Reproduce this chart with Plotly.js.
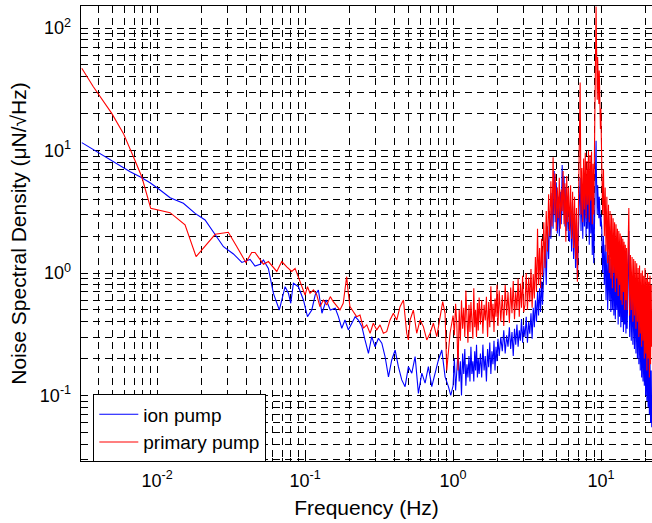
<!DOCTYPE html>
<html>
<head>
<meta charset="utf-8">
<script src="https://cdn.plot.ly/plotly-3.0.1.min.js"></script>
<style>html,body{margin:0;padding:0;background:#fff;}#chart{width:652px;height:523px;}</style>
</head>
<body>
<div id="chart"></div>
<script>
// ---- data ----
const seriesNames = ["ion pump", "primary pump"];

const freqBlueLow = [0.0031,0.00392,0.00507,0.00658,0.00767,0.00897,0.01048,0.01225,0.01506,0.01807,0.0211,0.0240,0.0281,0.0328,0.0374,0.0425,0.0459,0.0497,0.0523,0.0565,0.0611,0.0670,0.0733,0.0772,0.0800,0.0834,0.0901,0.0975,0.1038,0.111,0.117,0.123,0.130,0.139,0.148,0.160,0.168,0.177,0.186,0.196,0.207,0.218,0.229,0.242,0.254,0.268,0.282,0.297,0.313,0.330,0.347,0.366,0.385,0.406,0.427,0.450,0.474,0.499,0.526,0.554,0.583,0.615,0.647,0.681,0.718,0.756,0.796,0.839,0.883,0.930,0.965];
const psdBlueLow = [11.6,9.78,8.11,6.71,6.11,5.46,4.76,4.12,3.71,3.07,2.71,2.17,1.64,1.43,1.22,1.29,1.14,1.18,1.28,1.09,0.682,0.499,0.773,0.683,0.566,0.824,0.773,0.602,0.440,0.499,0.661,0.726,0.469,0.602,0.499,0.515,0.440,0.354,0.413,0.343,0.389,0.440,0.413,0.365,0.284,0.221,0.302,0.250,0.293,0.267,0.208,0.142,0.195,0.235,0.172,0.134,0.118,0.172,0.152,0.208,0.104,0.152,0.126,0.172,0.118,0.152,0.195,0.235,0.142,0.118,0.10];

const freqRedLow = [0.0031,0.00371,0.00494,0.00592,0.00692,0.00788,0.00906,0.01225,0.01545,0.01835,0.0247,0.0303,0.0346,0.0398,0.0436,0.0459,0.0523,0.0565,0.0644,0.0696,0.0752,0.0813,0.0856,0.0901,0.0951,0.100,0.1038,0.108,0.114,0.120,0.126,0.133,0.140,0.148,0.155,0.164,0.172,0.181,0.191,0.196,0.201,0.212,0.223,0.235,0.248,0.261,0.275,0.289,0.305,0.321,0.338,0.356,0.375,0.395,0.416,0.438,0.462,0.486,0.499,0.512,0.539,0.568,0.598,0.630,0.664,0.699,0.736,0.776,0.817,0.851,0.883,0.906,0.954];
const psdRedLow = [46.9,33.2,20.1,13.8,8.89,6.11,3.37,3.11,2.47,1.36,2.07,2.15,1.64,1.22,1.47,1.47,1.18,1.24,1.03,1.24,1.12,1.03,1.09,0.933,0.773,0.661,0.773,0.683,0.727,0.661,0.531,0.602,0.548,0.641,0.583,0.531,0.499,0.566,0.933,0.683,0.531,0.483,0.440,0.454,0.354,0.377,0.322,0.389,0.343,0.377,0.322,0.332,0.413,0.469,0.413,0.531,0.602,0.322,0.284,0.413,0.499,0.322,0.413,0.365,0.284,0.322,0.389,0.302,0.440,0.583,0.469,0.16,0.322];

const freqHigh = [
  1.00,1.02,1.04,1.06,1.08,1.10,1.12,1.14,1.16,1.18,1.20,1.22,1.24,1.26,1.28,1.30,1.32,1.34,1.36,1.38,1.40,1.42,1.44,1.46,1.48,1.50,
  1.53,1.56,1.59,1.62,1.65,1.68,1.71,1.74,1.77,1.80,1.83,1.86,1.89,1.92,1.95,1.98,2.01,
  2.05,2.10,2.15,2.20,2.25,2.30,2.35,2.40,2.45,2.50,2.55,2.60,2.65,2.70,2.75,2.80,2.85,2.90,2.95,3.00,
  3.06,3.12,3.18,3.24,3.30,3.36,3.42,3.48,3.54,3.60,3.66,3.72,3.78,3.84,3.90,3.96,4.02,
  4.10,4.18,4.26,4.34,4.42,4.50,4.58,4.66,4.74,4.82,4.90,4.98,5.06,5.14,5.22,5.30,5.38,5.46,5.54,5.62,5.70,5.78,5.86,5.94,6.02,
  6.12,6.22,6.32,6.42,6.52,6.62,6.72,6.82,6.92,7.02,7.12,7.22,7.32,7.42,7.52,7.62,7.72,7.82,7.92,8.02,8.12,8.22,8.32,8.42,8.52,8.62,8.72,8.82,8.92,9.02,
  9.08,9.14,9.20,9.25,9.30,9.36,9.42,9.48,9.54,9.60,9.66,9.72,9.78,9.84,9.90,9.96,
  10.10,10.24,10.38,10.52,10.66,10.80,10.94,11.08,11.22,11.36,11.50,11.64,11.78,11.92,12.06,12.20,12.34,12.48,12.62,12.76,12.90,13.04,13.18,13.32,13.46,13.60,13.74,13.88,14.02,14.16,14.30,14.44,14.58,14.72,14.86,15.00,
  15.2,15.4,15.6,15.8,16.0,16.2,16.4,16.6,16.8,17.0,17.2,17.4,17.6,17.8,18.0,18.2,18.4,18.6,18.8,19.0,19.2,19.4,19.6,19.8,20.0,20.2,20.4,20.6,20.8,21.0,21.2,21.4,21.6,21.8,22.0
];
const psdBlueHigh = [
  0.12,0.20,0.11,0.17,0.23,0.13,0.19,0.10,0.22,0.15,0.24,0.12,0.18,0.14,0.21,0.13,0.25,0.15,0.19,0.13,0.23,0.16,0.26,0.14,0.20,0.15,
  0.22,0.14,0.26,0.16,0.21,0.13,0.24,0.17,0.27,0.15,0.23,0.18,0.28,0.16,0.25,0.19,0.29,
  0.21,0.30,0.23,0.34,0.22,0.31,0.25,0.36,0.24,0.33,0.21,0.35,0.26,0.38,0.25,0.34,0.28,0.42,0.27,0.37,
  0.30,0.44,0.27,0.40,0.32,0.47,0.29,0.52,0.36,0.60,0.40,0.70,0.45,0.75,0.48,0.85,0.55,
  0.9,1.8,0.8,2.4,1.3,3.2,1.9,4.5,2.3,6.8,2.6,5.5,2.1,4.2,2.0,4.6,2.5,7.6,3.0,6.2,2.4,5.0,2.2,4.2,2.0,
  1.8,3.8,1.5,3.5,1.3,3.1,1.1,2.6,0.9,2.1,3.4,6.0,2.2,5.2,1.9,6.1,2.4,6.6,2.0,5.6,2.3,6.2,1.7,5.1,2.1,4.6,1.4,3.6,1.2,3.2,
  3.0,5.0,8.0,12,6.5,4.0,3.0,5.2,3.4,4.8,2.8,4.2,2.6,3.6,2.4,3.0,
  2.4,1.0,2.0,0.8,1.7,0.6,1.5,0.5,1.4,0.6,1.3,0.48,1.25,0.5,1.2,0.45,1.15,0.42,1.1,0.5,1.05,0.38,1.0,0.44,0.98,0.36,0.95,0.4,0.9,0.33,0.88,0.38,0.85,0.32,0.82,0.35,
  0.8,2.2,0.3,0.8,0.28,0.75,0.26,0.72,0.24,0.7,0.22,0.65,0.2,0.6,0.18,0.55,0.16,0.5,0.14,0.45,0.13,0.4,0.12,0.35,0.1,0.3,0.09,0.25,0.08,0.22,0.07,0.2,0.06,0.16,0.055
];
const psdRedHigh = [
  0.45,0.31,0.56,0.38,0.16,0.50,0.28,0.60,0.35,0.52,0.30,0.72,0.42,0.27,0.55,0.33,0.58,0.40,0.29,0.75,0.36,0.50,0.30,0.57,0.34,0.63,
  0.38,0.60,0.32,0.55,0.41,0.64,0.30,0.58,0.36,0.78,0.40,0.56,0.33,0.62,0.44,0.80,0.37,
  0.72,0.40,0.66,0.37,0.80,0.45,0.70,0.39,0.76,0.47,0.86,0.42,0.70,0.50,0.90,0.44,0.82,0.52,0.95,0.48,
  0.55,1.00,0.50,0.92,0.58,1.08,0.52,0.98,0.62,1.35,0.70,2.30,0.80,1.60,0.75,1.90,0.95,
  2.6,1.1,3.2,1.5,4.4,2.0,5.6,2.4,8.8,3.0,6.5,2.2,5.0,2.8,6.0,2.3,4.8,3.2,6.8,2.5,5.4,1.8,6.2,2.6,5.0,
  2.2,5.2,1.9,4.6,1.6,4.2,1.3,3.4,0.85,2.8,5.0,36,3.0,7.2,2.6,8.6,3.3,9.6,2.8,8.2,3.6,10.0,2.6,9.2,3.9,9.8,2.5,7.8,3.0,12,
  18,35,70,150,85,42,26,58,30,50,24,45,20,34,15,22,
  10,3.0,7.0,2.0,5.0,1.5,4.2,1.2,3.6,1.0,3.2,0.9,3.0,0.75,2.8,1.0,2.6,0.7,2.5,0.9,2.3,0.65,2.2,0.8,2.1,0.6,2.0,0.55,1.9,0.7,1.8,0.5,1.7,0.6,1.6,0.5,
  1.5,3.4,0.45,1.4,0.5,1.35,0.4,1.3,0.45,1.25,0.35,1.2,0.4,1.1,0.3,1.15,0.32,1.0,0.25,1.05,0.28,0.95,0.2,1.1,0.22,0.9,0.16,1.0,0.2,0.85,0.14,0.95,0.18,0.8,0.25
];

const xTickVals = [0.01, 0.1, 1, 10];
const xTickText = ["10<sup>-2</sup>", "10<sup>-1</sup>", "10<sup>0</sup>", "10<sup>1</sup>"];
const yTickVals = [0.1, 1, 10, 100];
const yTickText = ["10<sup>-1</sup>", "10<sup>0</sup>", "10<sup>1</sup>", "10<sup>2</sup>"];
const xMinorVals = [0.004,0.005,0.006,0.007,0.008,0.009,0.02,0.03,0.04,0.05,0.06,0.07,0.08,0.09,0.2,0.3,0.4,0.5,0.6,0.7,0.8,0.9,2,3,4,5,6,7,8,9,20];
const yMinorVals = [0.03,0.04,0.05,0.06,0.07,0.08,0.09,0.2,0.3,0.4,0.5,0.6,0.7,0.8,0.9,2,3,4,5,6,7,8,9,20,30,40,50,60,70,80,90];

// ---- chart ----
const FONT = "Liberation Sans, Arial, Helvetica, sans-serif";
const gridDash = "7px,5px";

const traces = [
  {x: freqBlueLow.concat(freqHigh), y: psdBlueLow.concat(psdBlueHigh), name: seriesNames[0],
   type: "scatter", mode: "lines", line: {color: "#0000ff", width: 1.1}},
  {x: freqRedLow.concat(freqHigh), y: psdRedLow.concat(psdRedHigh), name: seriesNames[1],
   type: "scatter", mode: "lines", line: {color: "#ff0000", width: 1.1}}
];

const axisCommon = {
  type: "log",
  ticks: "inside", ticklen: 6, tickcolor: "#000", tickwidth: 1,
  showline: true, linecolor: "#000", linewidth: 1.3,
  showgrid: true, gridcolor: "#000", gridwidth: 1, griddash: gridDash,
  zeroline: false,
  tickmode: "array",
  tickfont: {family: FONT, size: 18, color: "#000"},
};

const layout = {
  width: 652, height: 523,
  margin: {l: 81, r: 0, t: 6, b: 62},
  paper_bgcolor: "#fff", plot_bgcolor: "#fff",
  font: {family: FONT, color: "#000"},
  showlegend: true,
  legend: {
    x: 0.021, y: 0.147, xanchor: "left", yanchor: "top",
    bgcolor: "#fff", bordercolor: "#000", borderwidth: 1.3,
    font: {family: FONT, size: 19, color: "#000"},
    itemwidth: 39,
    tracegroupgap: 0
  },
  xaxis: Object.assign({}, axisCommon, {
    range: [-2.514, 1.344],
    tickvals: xTickVals, ticktext: xTickText,
    mirror: "ticks",
    ticklabelstandoff: 3,
    minor: {tickmode: "array", tickvals: xMinorVals, ticks: "inside", ticklen: 3, tickcolor: "#000",
            showgrid: true, gridcolor: "#000", gridwidth: 1, griddash: gridDash},
    title: {text: "Frequency (Hz)", font: {family: FONT, size: 21, color: "#000"}, standoff: 10}
  }),
  yaxis: Object.assign({}, axisCommon, {
    range: [-1.535, 2.18],
    tickvals: yTickVals, ticktext: yTickText,
    mirror: false,
    ticklabelstandoff: 5,
    minor: {tickmode: "array", tickvals: yMinorVals, ticks: "inside", ticklen: 3, tickcolor: "#000",
            showgrid: true, gridcolor: "#000", gridwidth: 1, griddash: gridDash},
    title: {text: "Noise Spectral Density (μN/√Hz)", font: {family: FONT, size: 21, color: "#000"}, standoff: 7}
  }),
  hovermode: false
};

Plotly.newPlot("chart", traces, layout, {displayModeBar: false, staticPlot: true});
</script>
</body>
</html>
